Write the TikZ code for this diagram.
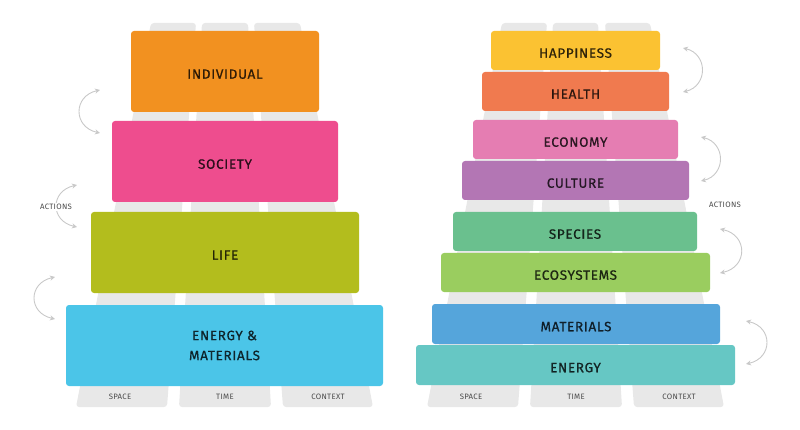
\documentclass[tikz,border=0pt]{standalone}
\usepackage{fontspec}
\setmainfont{Fira Sans}[LetterSpace=4]
\newfontfamily\boxfont[FakeBold=0.6,LetterSpace=5]{Fira Sans}
\usetikzlibrary{arrows.meta}
\definecolor{pil}{HTML}{E8E8E8}
\definecolor{arc}{HTML}{C8C8C8}
\definecolor{cInd}{HTML}{F29120}
\definecolor{cSoc}{HTML}{EE4D8E}
\definecolor{cLife}{HTML}{B3BD1D}
\definecolor{cEM}{HTML}{4BC5E8}
\definecolor{cHap}{HTML}{FBC232}
\definecolor{cHea}{HTML}{F07A4F}
\definecolor{cEco}{HTML}{E57DB2}
\definecolor{cCul}{HTML}{B376B4}
\definecolor{cSpe}{HTML}{6AC08E}
\definecolor{cEcs}{HTML}{9ACD5F}
\definecolor{cMat}{HTML}{55A5DB}
\definecolor{cEne}{HTML}{66C7C4}
\tikzset{
  pillar/.style={fill=pil, rounded corners=3pt},
  bigbox/.style={rounded corners=3pt, inner sep=0pt, align=center,
     font=\boxfont\fontsize{13.5}{20}\selectfont, text=black, text opacity=0.78},
  onebox/.style={bigbox, text height=14.5pt, text depth=0pt},
  small/.style={font=\fontsize{7.8}{9}\selectfont, text=black!70, inner sep=1pt},
  act/.style={draw=arc, line width=0.9pt, {Stealth[length=5pt,width=5pt]}-{Stealth[length=5pt,width=5pt]}}
}
\begin{document}
\begin{tikzpicture}[x=1pt,y=-1pt]
\useasboundingbox (0,0) rectangle (800,430);
% left pillars
\fill[pillar] (151,23) -- (196,23) -- (167,407) -- (76,407) -- cycle;
\fill[pillar] (202,23) -- (248,23) -- (271,407) -- (179,407) -- cycle;
\fill[pillar] (254,23) -- (300,23) -- (373,407) -- (283,407) -- cycle;
% right pillars
\fill[pillar] (502,23) -- (547,23) -- (518,407) -- (427,407) -- cycle;
\fill[pillar] (553,23) -- (598,23) -- (622,407) -- (530,407) -- cycle;
\fill[pillar] (605,23) -- (650,23) -- (724,407) -- (634,407) -- cycle;
% left boxes
\node[onebox, fill=cInd, minimum width=188pt, minimum height=81pt] (ind) at (225,71.5) {INDIVIDUAL};
\node[onebox, fill=cSoc, minimum width=226pt, minimum height=81pt] (soc) at (225,161.5) {SOCIETY};
\node[onebox, fill=cLife, minimum width=268pt, minimum height=81pt] (life) at (225,252.5) {LIFE};
\node[bigbox, fill=cEM, minimum width=317pt, minimum height=81pt] (em) at (224.5,345.5) {ENERGY \&\\MATERIALS};
% right boxes
\node[onebox, fill=cHap, minimum width=169pt, minimum height=39pt] (hap) at (575.5,50.5) {HAPPINESS};
\node[onebox, fill=cHea, minimum width=187pt, minimum height=39pt] (hea) at (575.5,91.5) {HEALTH};
\node[onebox, fill=cEco, minimum width=205pt, minimum height=39pt] (eco) at (575.5,139.5) {ECONOMY};
\node[onebox, fill=cCul, minimum width=227pt, minimum height=39pt] (cul) at (575.5,180.5) {CULTURE};
\node[onebox, fill=cSpe, minimum width=244pt, minimum height=39pt] (spe) at (575,231.5) {SPECIES};
\node[onebox, fill=cEcs, minimum width=269pt, minimum height=39pt] (ecs) at (575.5,272.5) {ECOSYSTEMS};
\node[onebox, fill=cMat, minimum width=288pt, minimum height=40pt] (mat) at (576,324) {MATERIALS};
\node[onebox, fill=cEne, minimum width=319pt, minimum height=40pt] (ene) at (575.5,365) {ENERGY};
% bottom labels
\node[small] (ls) at (120,397) {SPACE};
\node[small] (lt) at (225,397) {TIME};
\node[small] (lc) at (328,397) {CONTEXT};
\node[small] (rs) at (471,397) {SPACE};
\node[small] (rt) at (576,397) {TIME};
\node[small] (rc) at (679,397) {CONTEXT};
% arcs left
\coordinate (a1s) at (100,90);  \coordinate (a1e) at (100,133);
\coordinate (a2s) at (77,185);  \coordinate (a2e) at (77,227);
\coordinate (a3s) at (55,277);  \coordinate (a3e) at (55,319);
\draw[act] (a1s) .. controls (73,96) and (73,127) .. (a1e);
\draw[act] (a2s) .. controls (50,191) and (50,221) .. (a2e);
\draw[act] (a3s) .. controls (28,283) and (28,313) .. (a3e);
% arcs right
\coordinate (b1s) at (683,48);  \coordinate (b1e) at (683,92);
\coordinate (b2s) at (701,137); \coordinate (b2e) at (701,181);
\coordinate (b3s) at (720,229); \coordinate (b3e) at (720,273);
\coordinate (b4s) at (746,321); \coordinate (b4e) at (746,364);
\draw[act] (b1s) .. controls (708,54) and (708,86) .. (b1e);
\draw[act] (b2s) .. controls (726,143) and (726,175) .. (b2e);
\draw[act] (b3s) .. controls (748,235) and (748,267) .. (b3e);
\draw[act] (b4s) .. controls (773,327) and (773,358) .. (b4e);
% action labels
\node[small, fill=white] (actl) at (56,207) {ACTIONS};
\node[small, fill=white] (actr) at (725,205) {ACTIONS};
\end{tikzpicture}
\end{document}
